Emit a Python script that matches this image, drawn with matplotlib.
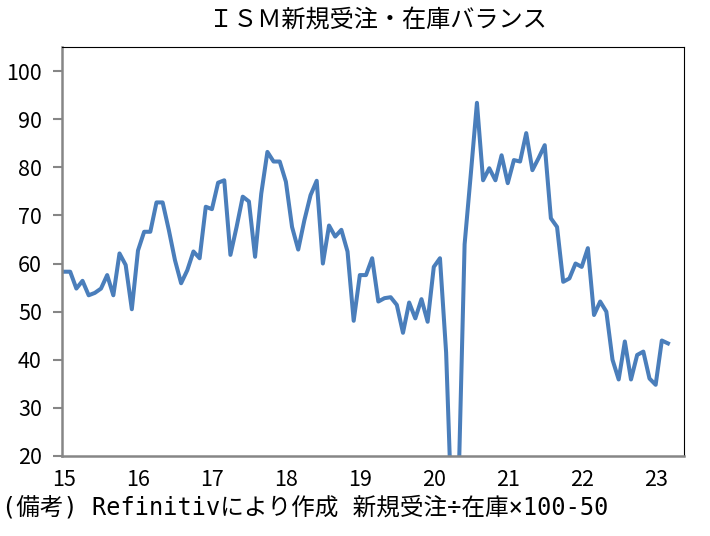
import matplotlib
matplotlib.use("Agg")
import matplotlib.pyplot as plt
import numpy as np

plt.rcParams['font.family'] = ['Noto Sans CJK JP', 'DejaVu Sans']

# Monthly values (Jan 2015 - Mar 2023)
v2015 = [58.3, 58.3, 54.8, 56.4, 53.4, 53.9, 54.8, 57.6, 53.4, 62.1, 59.7, 50.5]
v2016 = [62.7, 66.6, 66.6, 72.7, 72.7, 67.0, 60.7, 55.9, 58.6, 62.5, 61.1, 71.8]
v2017 = [71.3, 76.8, 77.3, 61.8, 67.6, 73.9, 72.9, 61.4, 74.5, 83.2, 81.2, 81.2]
v2018 = [77.0, 67.6, 62.9, 69.0, 74.2, 77.2, 60.0, 67.9, 65.6, 67.0, 62.5, 48.1]
v2019 = [57.6, 57.6, 61.1, 52.1, 52.8, 53.0, 51.4, 45.6, 51.9, 48.6, 52.6, 47.9]
v2020 = [59.3, 61.1, 41.5, 4.5, 13.0, 64.0, 78.5, 93.4, 77.3, 79.8, 77.3, 82.5]
v2021 = [76.7, 81.5, 81.2, 87.1, 79.4, 81.9, 84.6, 69.4, 67.6, 56.2, 56.9, 60.0]
v2022 = [59.3, 63.2, 49.3, 52.1, 50.0, 40.0, 35.9, 43.8, 35.9, 41.0, 41.7, 36.1]
v2023 = [34.8, 44.0, 43.4]

year_labels = ['15', '16', '17', '18', '19', '20', '21', '22', '23']
y_ticks = [20, 30, 40, 50, 60, 70, 80, 90, 100]

title = 'ＩＳＭ新規受注・在庫バランス'
note = '(備考) Refinitivにより作成 新規受注÷在庫×100-50'

values = np.array(v2015 + v2016 + v2017 + v2018 + v2019 + v2020 + v2021 + v2022 + v2023)
x = np.arange(len(values))

fig = plt.figure(figsize=(7.10, 5.36), dpi=100)
ax = fig.add_axes([62/710, 1-456/536, (684-62)/710, (456-47)/536])

ax.plot(x, values, color='#4A7EBB', linewidth=2.9, solid_joinstyle='round')

ax.set_xlim(-0.33, 100.6)
ax.set_ylim(20, 105)
ax.set_yticks(y_ticks)
ax.set_yticklabels([str(t) for t in y_ticks], fontsize=15.5)
ax.set_xticks(np.arange(0, len(values), 12)[:len(year_labels)])
ax.set_xticklabels(year_labels, fontsize=15.5)

ax.tick_params(axis='y', length=6.5, width=1.5, color='#868686', pad=8, direction='out')
ax.tick_params(axis='x', length=0, pad=9)

for s in ['top', 'right']:
    ax.spines[s].set_color('black')
    ax.spines[s].set_linewidth(0.8)
for s in ['left', 'bottom']:
    ax.spines[s].set_color('#868686')
    ax.spines[s].set_linewidth(1.8)

fig.text(378/710, 1-21/536, title, ha='center', va='center', fontsize=17.4)
fig.text(2/710, 1-508/536, note, ha='left', va='center', fontsize=17,
         family=['DejaVu Sans Mono', 'Noto Sans CJK JP'])

fig.savefig('out.png', dpi=100)
